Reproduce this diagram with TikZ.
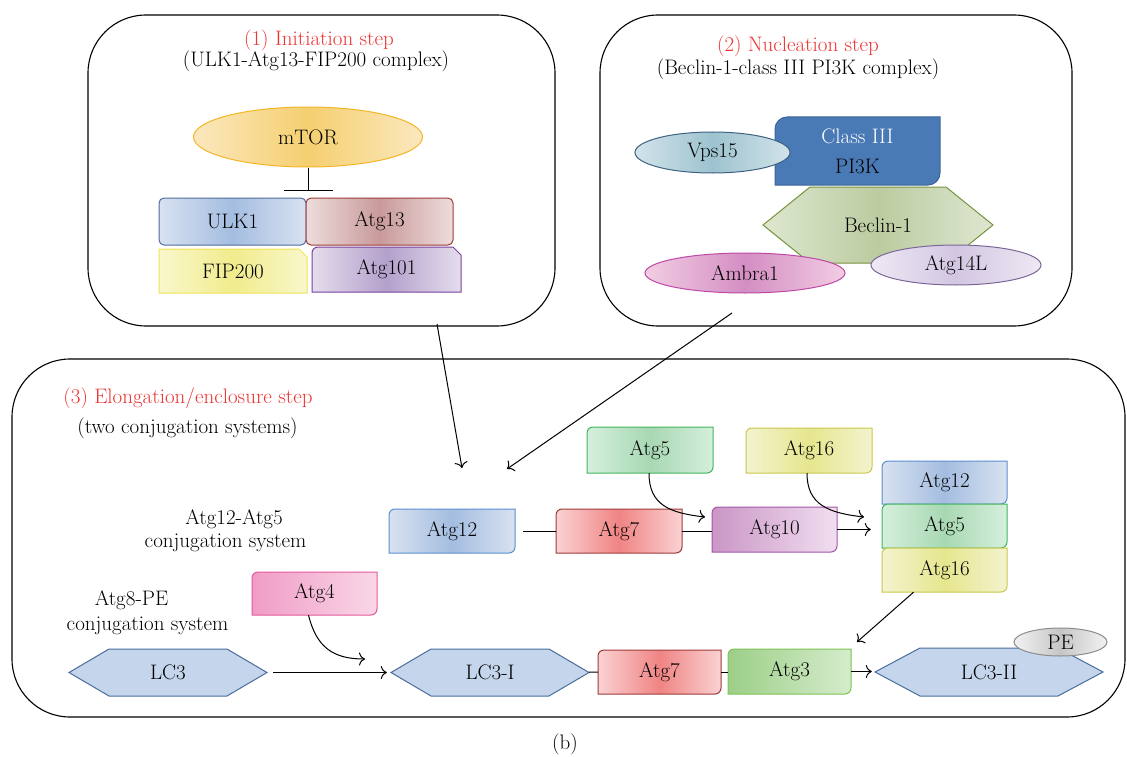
\documentclass[tikz,border=0pt]{standalone}
\usetikzlibrary{shapes.geometric,arrows.meta}

% colours
\definecolor{stepred}{HTML}{EC3432}
\definecolor{mtorE}{HTML}{FBE8BE}
\definecolor{mtorM}{HTML}{F5CF70}
\definecolor{mtorD}{HTML}{F3B526}
\definecolor{blueE}{HTML}{D8E2F1}
\definecolor{blueM}{HTML}{A4BDE0}
\definecolor{blueD}{HTML}{5B8FCF}
\definecolor{ulkD}{HTML}{4F6D9A}
\definecolor{a13E}{HTML}{EEDCDC}
\definecolor{a13M}{HTML}{C99A9A}
\definecolor{a13D}{HTML}{9B3B3B}
\definecolor{fipE}{HTML}{F9F7CC}
\definecolor{fipM}{HTML}{F1EC8C}
\definecolor{fipD}{HTML}{EFE35A}
\definecolor{a101E}{HTML}{E4DDEC}
\definecolor{a101M}{HTML}{B4A0CC}
\definecolor{a101D}{HTML}{7A3FA0}
\definecolor{pi3k}{HTML}{4A7AB6}
\definecolor{pi3kD}{HTML}{3E6597}
\definecolor{vpsE}{HTML}{D3E3EA}
\definecolor{vpsM}{HTML}{9DC3CF}
\definecolor{vpsD}{HTML}{3D6282}
\definecolor{becE}{HTML}{DDE7D0}
\definecolor{becM}{HTML}{BCCBA0}
\definecolor{becD}{HTML}{77933C}
\definecolor{ambE}{HTML}{F2CDE3}
\definecolor{ambM}{HTML}{D48EC3}
\definecolor{ambD}{HTML}{BD48A5}
\definecolor{a14E}{HTML}{EEE9F4}
\definecolor{a14M}{HTML}{D2C6E2}
\definecolor{a14D}{HTML}{7B6697}
\definecolor{a7E}{HTML}{FAD2D2}
\definecolor{a7M}{HTML}{F08484}
\definecolor{a7D}{HTML}{9E3A3A}
\definecolor{a5E}{HTML}{D5EFDC}
\definecolor{a5M}{HTML}{A8D8B3}
\definecolor{a5D}{HTML}{3FB55B}
\definecolor{a16E}{HTML}{F3F3CF}
\definecolor{a16M}{HTML}{E6E68E}
\definecolor{a16D}{HTML}{C9C74D}
\definecolor{a10L}{HTML}{CA96C6}
\definecolor{a10R}{HTML}{F1DEF0}
\definecolor{a10D}{HTML}{A455AA}
\definecolor{a4L}{HTML}{F09CC6}
\definecolor{a4R}{HTML}{F9D7E7}
\definecolor{a4D}{HTML}{E4599B}
\definecolor{a3L}{HTML}{9CCF88}
\definecolor{a3R}{HTML}{D6ECCC}
\definecolor{a3D}{HTML}{7DC352}
\definecolor{lc3}{HTML}{C5D6EC}
\definecolor{lc3D}{HTML}{4A6E9C}
\definecolor{peE}{HTML}{F2F2F2}
\definecolor{peM}{HTML}{C6C6C6}
\definecolor{peD}{HTML}{8C8C8C}

\tikzset{
  every node/.style={font=\fontsize{21}{25}\selectfont},
  frame/.style={draw=black,line width=1.1pt,rounded corners=58pt},
  conn/.style={line width=1pt},
  arr/.style={line width=1pt,-{To[length=6pt,width=13pt]}},
  shmid/.style n args={3}{left color=#1,right color=#1,middle color=#2,draw=#3},
  shlr/.style n args={3}{left color=#1,right color=#2,draw=#3},
  oval/.style={ellipse,inner sep=0pt,line width=1pt},
  steptext/.style={anchor=base},
}

% box with rounded top-left and bottom-right corners
\newcommand{\dbox}[8][6]{%
  \path[line width=1pt,#7] (#3,#4) ++(-#5/2,#6/2) -- ++(0,-#6+#1)
    arc[start angle=180,end angle=90,radius=#1pt] -- ++(#5-#1,0) -- ++(0,#6-#1)
    arc[start angle=0,end angle=-90,radius=#1pt] -- cycle;
  \node[minimum width=#5pt,minimum height=#6pt,inner sep=0pt,align=center] (#2) at (#3,#4) {#8};}

% hexagon
\newcommand{\hexbox}[8]{%
  \path[line width=1pt,#7] (#2,#3) ++(-#4/2,0) -- ++(#6,-#5/2) -- ++(#4-2*#6,0)
    -- ++(#6,#5/2) -- ++(-#6,#5/2) -- ++(-#4+2*#6,0) -- cycle;
  \node[minimum width=#4pt,minimum height=#5pt,inner sep=0pt] (#1) at (#2,#3) {#8};}

\begin{document}
\begin{tikzpicture}[x=1pt,y=-1pt]
\useasboundingbox (0,0) rectangle (1127,757);

% Step frames
\draw[frame] (88,15) rectangle (555,326);
\draw[frame] (600,15) rectangle (1072,326);
\draw[frame] (12,359) rectangle (1125,717);

% Titles
\node[steptext,text=stepred] (title1) at (319,46) {(1) Initiation step};
\node[steptext] (sub1) at (316,67) {(ULK1-Atg13-FIP200 complex)};
\node[steptext,text=stepred] (title2) at (798,52) {(2) Nucleation step};
\node[steptext] (sub2) at (798,75) {(Beclin-1-class III PI3K complex)};
\node[steptext,text=stepred] (title3) at (188,403) {(3) Elongation/enclosure step};
\node[steptext] (sub3) at (187.5,433) {(two conjugation systems)};
\node[steptext] (sysA1) at (234,524) {Atg12-Atg5};
\node[steptext] (sysA2) at (225.5,547) {conjugation system};
\node[steptext] (sysB1) at (131.5,605) {Atg8-PE};
\node[steptext] (sysB2) at (147.5,630) {conjugation system};
\node[steptext] (panel) at (565,749) {(b)};

% (1) ULK1 complex
\node[oval,minimum width=229pt,minimum height=60pt,shmid={mtorE}{mtorM}{mtorD}] (mtor) at (308,137) {mTOR};
\draw[line width=1pt,-{Bar[width=49pt]}] (mtor.south) -- ++(0,23);
\node[draw,rounded corners=5pt,minimum width=147pt,minimum height=47pt,inner sep=0pt,line width=1pt,
  shmid={blueE}{blueM}{ulkD}] (ulk1) at (232.5,221.5) {ULK1};
\node[draw,rounded corners=5pt,minimum width=147pt,minimum height=47pt,inner sep=0pt,line width=1pt,
  shmid={a13E}{a13M}{a13D}] (atg13) at (379.5,221.5) {Atg13};
\path[line width=1pt,shmid={fipE}{fipM}{fipD}] (159,293) -- (159,249) -- (299,249) -- (307,257) -- (307,293) -- cycle;
\node[minimum width=148pt,minimum height=44pt,inner sep=0pt] (fip200) at (233,271) {FIP200};
\path[line width=1pt,shmid={a101E}{a101M}{a101D}] (312,292) -- (312,253)
  arc[start angle=180,end angle=90,radius=6pt] -- (453,247) -- (461,255) -- (461,292) -- cycle;
\node[minimum width=149pt,minimum height=45pt,inner sep=0pt] (atg101) at (386.5,269.5) {Atg101};

% (2) Beclin-1 complex
\dbox[12]{pi3k}{857.5}{151}{165}{68}{fill=pi3k,draw=pi3kD}{\color{white}Class III\\[5pt]PI3K}
\node[oval,minimum width=155pt,minimum height=41pt,shmid={vpsE}{vpsM}{vpsD}] (vps15) at (712.5,152.5) {Vps15};
\hexbox{beclin}{878}{225}{230}{76}{47}{shmid={becE}{becM}{becD}}{Beclin-1}
\node[oval,minimum width=200pt,minimum height=40pt,shmid={ambE}{ambM}{ambD}] (ambra1) at (745,273) {Ambra1};
\node[oval,minimum width=170pt,minimum height=40pt,shmid={a14E}{a14M}{a14D}] (atg14l) at (956,265) {Atg14L};

% (3) Atg12-Atg5 system
\dbox{atg12}{452}{531}{126}{44}{shmid={blueE}{blueM}{blueD}}{Atg12}
\dbox{atg7a}{619}{531}{126}{44}{shmid={a7E}{a7M}{a7D}}{Atg7}
\dbox{atg10}{774.5}{529.5}{125}{45}{shlr={a10L}{a10R}{a10D}}{Atg10}
\dbox{atg5a}{650}{450}{126}{46}{shmid={a5E}{a5M}{a5D}}{Atg5}
\dbox{atg16a}{809}{450.5}{126}{45}{shmid={a16E}{a16M}{a16D}}{Atg16}
\dbox{atg12c}{944.5}{482.5}{125}{43}{shmid={blueE}{blueM}{blueD}}{Atg12}
\dbox{atg5c}{944.5}{526}{125}{44}{shmid={a5E}{a5M}{a5D}}{Atg5}
\dbox{atg16c}{944.5}{570}{125}{44}{shmid={a16E}{a16M}{a16D}}{Atg16}

% (3) Atg8-PE system
\dbox{atg4}{314.5}{593.5}{125}{43}{shlr={a4L}{a4R}{a4D}}{Atg4}
\hexbox{lc3}{168}{672.5}{198}{47}{40}{fill=lc3,draw=lc3D}{LC3}
\hexbox{lc3i}{490}{672.5}{198}{47}{40}{fill=lc3,draw=lc3D}{LC3-I}
\dbox{atg7b}{659.5}{672}{123}{44}{shmid={a7E}{a7M}{a7D}}{Atg7}
\dbox{atg3}{789.5}{671.5}{123}{45}{shlr={a3L}{a3R}{a3D}}{Atg3}
\hexbox{lc3ii}{989}{672}{228}{48}{45}{fill=lc3,draw=lc3D}{LC3-II}
\node[oval,minimum width=93pt,minimum height=28pt,shmid={peE}{peM}{peD}] (pe) at (1060.5,642) {PE};

% Arrows from steps (1) and (2)
\coordinate (from1) at (437,324);
\coordinate (to1) at (462,468);
\coordinate (from2) at (732,313);
\coordinate (to2) at (507,469);
\draw[arr] (from1) -- (to1);
\draw[arr] (from2) -- (to2);

% Conjugation links
\draw[conn,shorten <=8pt] (atg12) -- (atg7a);
\draw[conn] (atg7a.east) -- (atg7a.east -| atg10.west);
\draw[arr,shorten >=11pt] (atg10.east) -- (atg10.east -| atg5c.west);
\coordinate (in5) at (705,517);
\coordinate (in16) at (864,517);
\draw[arr] ([xshift=-1pt]atg5a.south) .. controls +(0,32) and +(-35,-4) .. (in5);
\draw[arr] ([xshift=-2pt]atg16a.south) .. controls +(0,32) and +(-35,-4) .. (in16);
\coordinate (to3) at (857,642);
\draw[arr] ([xshift=-31pt]atg16c.south) -- (to3);

\draw[arr,shorten <=6pt,shorten >=4pt] (lc3) -- (lc3i);
\coordinate (in4) at (365,659);
\draw[arr] ([xshift=-6pt]atg4.south) .. controls +(8,32) and +(-32,0) .. (in4);
\draw[conn] (lc3i) -- (atg7b);
\draw[conn] (atg7b.east) -- (atg7b.east -| atg3.west);
\draw[arr,shorten >=3pt] (atg3.east) -- (atg3.east -| lc3ii.west);
\end{tikzpicture}
\end{document}
